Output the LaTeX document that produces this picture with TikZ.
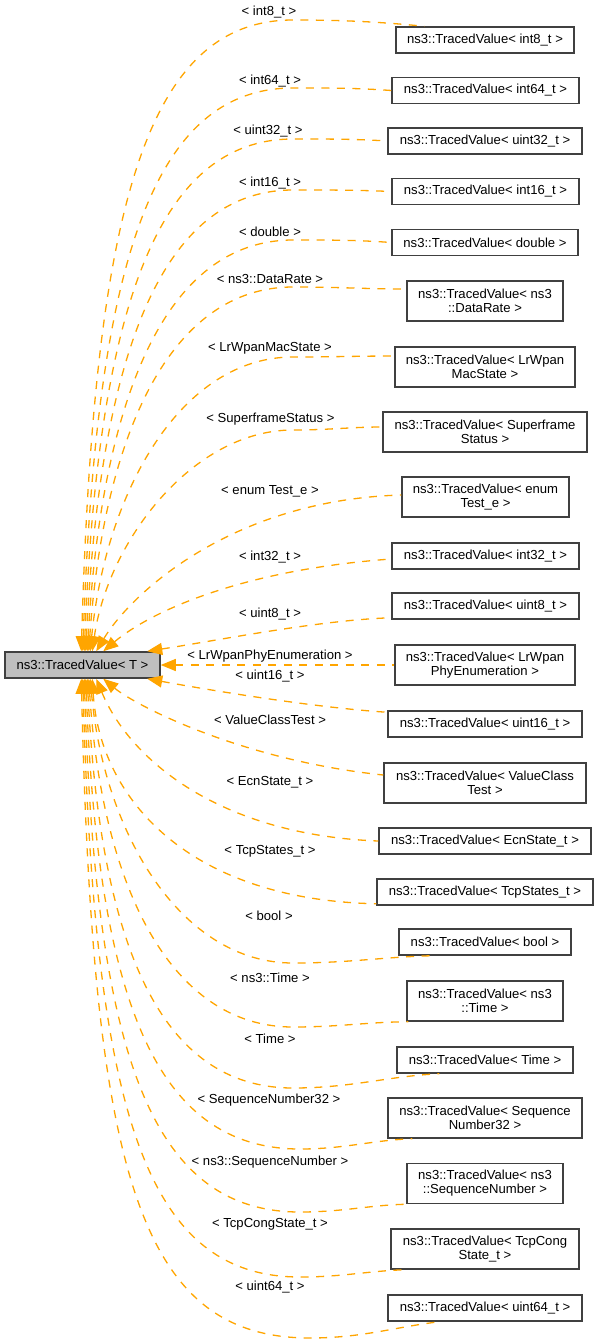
\documentclass[tikz,border=0pt]{standalone}
\usepackage{fontspec}
\setmainfont{Liberation Sans}
\usetikzlibrary{arrows.meta}
\definecolor{edgeor}{HTML}{FFA500}
\definecolor{bord}{HTML}{404040}
\definecolor{basefill}{HTML}{BFBFBF}
\tikzset{
 cls/.style={draw=bord, line width=1.5pt, fill=white, minimum height=26pt, inner xsep=2pt, inner ysep=2pt, align=center, font=\fontsize{13.1}{14}\selectfont, text=black},
 tall/.style={minimum height=40pt},
 lbl/.style={inner sep=0pt, font=\fontsize{13.1}{14}\selectfont, text=black},
 inh/.style={draw=edgeor, line width=1.3pt, dash pattern=on 8pt off 7.5pt, {Triangle[length=15pt,width=12pt,fill=edgeor]}-},
}
\begin{document}
\begin{tikzpicture}[x=1pt,y=-1pt]
\useasboundingbox (0,0) rectangle (599,1344);
\node[cls, fill=basefill, minimum width=155pt] (b) at (82.5,665) {ns3::TracedValue< T >};
\node[cls, minimum width=178pt] (n1) at (485,40) {ns3::TracedValue< int8\_t >};
\node[cls, minimum width=187pt] (n2) at (485.5,90.5) {ns3::TracedValue< int64\_t >};
\node[cls, minimum width=194pt] (n3) at (485,141) {ns3::TracedValue< uint32\_t >};
\node[cls, minimum width=187pt] (n4) at (485.5,191.5) {ns3::TracedValue< int16\_t >};
\node[cls, minimum width=186pt] (n5) at (485,242.5) {ns3::TracedValue< double >};
\node[cls, tall, minimum width=156pt] (n6) at (485,301) {ns3::TracedValue< ns3\\::DataRate >};
\node[cls, tall, minimum width=180pt] (n7) at (485,367) {ns3::TracedValue< LrWpan\\MacState >};
\node[cls, tall, minimum width=204pt] (n8) at (485,432) {ns3::TracedValue< Superframe\\Status >};
\node[cls, tall, minimum width=167pt] (n9) at (485.5,497) {ns3::TracedValue< enum\\Test\_e >};
\node[cls, minimum width=187pt] (n10) at (485.5,556) {ns3::TracedValue< int32\_t >};
\node[cls, minimum width=187pt] (n11) at (485.5,606) {ns3::TracedValue< uint8\_t >};
\node[cls, tall, minimum width=180pt] (n12) at (485,665) {ns3::TracedValue< LrWpan\\PhyEnumeration >};
\node[cls, minimum width=194pt] (n13) at (485,724) {ns3::TracedValue< uint16\_t >};
\node[cls, tall, minimum width=202pt] (n14) at (485,783) {ns3::TracedValue< ValueClass\\Test >};
\node[cls, minimum width=212pt] (n15) at (485,841) {ns3::TracedValue< EcnState\_t >};
\node[cls, minimum width=216pt] (n16) at (485,892) {ns3::TracedValue< TcpStates\_t >};
\node[cls, minimum width=172pt] (n17) at (485,942) {ns3::TracedValue< bool >};
\node[cls, tall, minimum width=156pt] (n18) at (485,1001) {ns3::TracedValue< ns3\\::Time >};
\node[cls, minimum width=176pt] (n19) at (485,1060) {ns3::TracedValue< Time >};
\node[cls, tall, minimum width=194pt] (n20) at (485,1118) {ns3::TracedValue< Sequence\\Number32 >};
\node[cls, tall, minimum width=156pt] (n21) at (485,1183.5) {ns3::TracedValue< ns3\\::SequenceNumber >};
\node[cls, tall, minimum width=188pt] (n22) at (485,1249) {ns3::TracedValue< TcpCong\\State\_t >};
\node[cls, minimum width=194pt] (n23) at (485,1308) {ns3::TracedValue< uint64\_t >};
% labels
\node[lbl] (l1) at (269,11.7) {< int8\_t >};
\node[lbl] (l2) at (270,80.7) {< int64\_t >};
\node[lbl] (l3) at (268,131) {< uint32\_t >};
\node[lbl] (l4) at (270,182.7) {< int16\_t >};
\node[lbl] (l5) at (270,232) {< double >};
\node[lbl] (l6) at (270,279) {< ns3::DataRate >};
\node[lbl] (l7) at (270,348.3) {< LrWpanMacState >};
\node[lbl] (l8) at (270.5,419.3) {< SuperframeStatus >};
\node[lbl] (l9) at (270,491.7) {< enum Test\_e >};
\node[lbl] (l10) at (270,556.7) {< int32\_t >};
\node[lbl] (l11) at (270,614.3) {< uint8\_t >};
\node[lbl] (l12) at (270,656) {< LrWpanPhyEnumeration >};
\node[lbl] (l13) at (270,676) {< uint16\_t >};
\node[lbl] (l14) at (270,720) {< ValueClassTest >};
\node[lbl] (l15) at (270,782.7) {< EcnState\_t >};
\node[lbl] (l16) at (270,851) {< TcpStates\_t >};
\node[lbl] (l17) at (269,916) {< bool >};
\node[lbl] (l18) at (270,978) {< ns3::Time >};
\node[lbl] (l19) at (270,1039) {< Time >};
\node[lbl] (l20) at (269,1100) {< SequenceNumber32 >};
\node[lbl] (l21) at (270,1162) {< ns3::SequenceNumber >};
\node[lbl] (l22) at (270,1224) {< TcpCongState\_t >};
\node[lbl] (l23) at (270,1287) {< uint64\_t >};
% edges (upper)
\draw[inh] ([xshift=77pt]b.north west) .. controls (94,209.6) and (145.3,20) .. (293,20) .. controls (346,20) and (380,22) .. ([xshift=29pt]n1.north west);
\draw[inh] ([xshift=78.5pt]b.north west) .. controls (96,268.5) and (150.5,88) .. (293,88) .. controls (333,88) and (357,88) .. (n2.west);
\draw[inh] ([xshift=80pt]b.north west) .. controls (98,313.4) and (155.7,139) .. (293,139) .. controls (331,139) and (355,139) .. (n3.west);
\draw[inh] ([xshift=81.5pt]b.north west) .. controls (100,356.3) and (160.8,190) .. (293,190) .. controls (333,190) and (357,190) .. (n4.west);
\draw[inh] ([xshift=83pt]b.north west) .. controls (102,396.6) and (165.9,240) .. (293,240) .. controls (333,240) and (357,240) .. (n5.west);
\draw[inh] ([xshift=84.5pt]b.north west) .. controls (104,433) and (170.9,287) .. (293,287) .. controls (339,287) and (367,289) .. ([yshift=12pt]n6.west);
\draw[inh] ([xshift=86pt]b.north west) .. controls (106,489.75) and (181.9,357) .. (293,357) .. controls (334,357) and (359,356) .. ([yshift=11pt]n7.west);
\draw[inh] ([xshift=88pt]b.north west) .. controls (108,541) and (193,430) .. (293,430) .. controls (329,430) and (351,427) .. ([yshift=5pt]n8.west);
\draw[inh] ([xshift=92pt]b.north west) .. controls (130,595) and (230,500) .. ([yshift=2pt]n9.west);
\draw[inh] ([xshift=99pt]b.north west) .. controls (150,612) and (240,570) .. ([yshift=-3pt]n10.west);
\draw[inh] ([xshift=143pt]b.north west) .. controls (220,640) and (320,620) .. ([yshift=2pt]n11.south west);
\draw[inh] (b.east) -- (n12.west);
% edges (lower)
\draw[inh] ([xshift=143pt]b.south west) .. controls (220,692) and (320,708) .. ([yshift=-2pt]n13.north west);
\draw[inh] ([xshift=99pt]b.south west) .. controls (135,705) and (240,760) .. ([yshift=8pt]n14.west);
\draw[inh] ([xshift=92pt]b.south west) .. controls (130,760) and (220,835) .. (n15.west);
\draw[inh] ([xshift=88pt]b.south west) .. controls (100,800) and (190,900) .. ([yshift=2pt]n16.south west);
\draw[inh] ([xshift=86pt]b.south west) .. controls (104,834.75) and (181.9,963) .. (293,963) .. controls (348.6,963) and (383.4,957) .. ([xshift=33pt]n17.south west);
\draw[inh] ([xshift=84.5pt]b.south west) .. controls (102,887.4) and (170.9,1027) .. (293,1027) .. controls (339,1027) and (368,1022) .. ([xshift=2pt]n18.south west);
\draw[inh] ([xshift=83pt]b.south west) .. controls (100,944.5) and (159.75,1088) .. (293,1088) .. controls (351.8,1088) and (388.6,1076) .. ([xshift=43pt]n19.south west);
\draw[inh] ([xshift=81.5pt]b.south west) .. controls (98,998.3) and (154.8,1149) .. (300,1149) .. controls (345,1149) and (373,1140) .. ([xshift=25pt]n20.south west);
\draw[inh] ([xshift=80pt]b.south west) .. controls (96,1051.8) and (149.5,1212) .. (300,1212) .. controls (343,1212) and (370,1205) .. (n21.south west);
\draw[inh] ([xshift=78.5pt]b.south west) .. controls (94.5,1109.3) and (144.1,1277) .. (300,1277) .. controls (342,1277) and (368,1271) .. ([xshift=14pt]n22.south west);
\draw[inh] ([xshift=77pt]b.south west) .. controls (93,1173) and (139,1338) .. (310,1338) .. controls (362,1338) and (395,1327) .. ([xshift=52pt]n23.south west);
\end{tikzpicture}
\end{document}
